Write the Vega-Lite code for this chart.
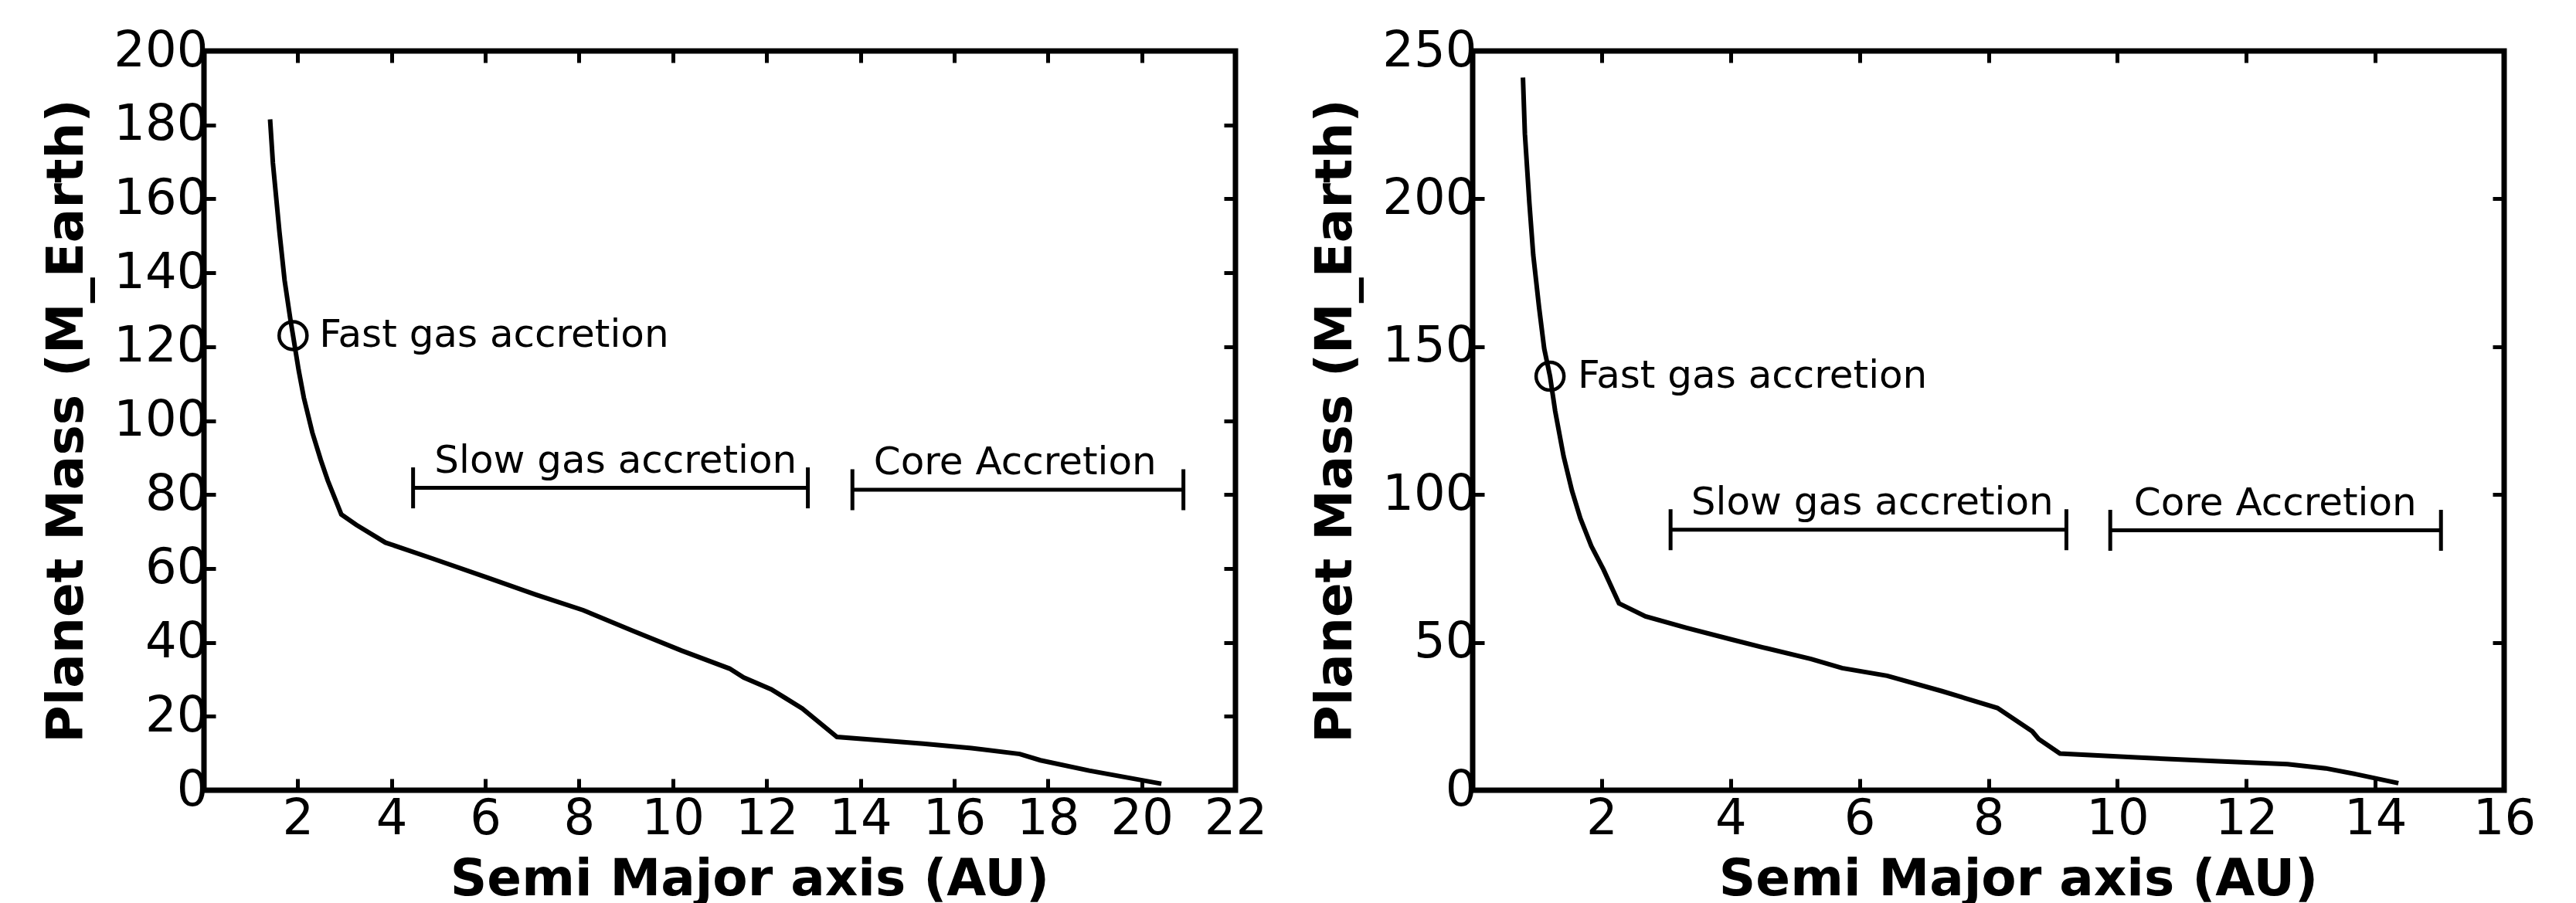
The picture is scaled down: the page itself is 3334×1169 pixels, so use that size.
{
  "$schema": "https://vega.github.io/schema/vega-lite/v6.json",
  "background": "white",
  "padding": {"left": 50, "top": 30, "right": 5, "bottom": 0},
  "spacing": 48,
  "config": {
    "view": {"stroke": "black", "strokeWidth": 7},
    "axis": {
      "labelFont": "DejaVu Sans", "labelFontSize": 64, "labelColor": "black",
      "titleFont": "DejaVu Sans", "titleFontSize": 66, "titleFontWeight": "bold", "titleColor": "black",
      "domain": false, "grid": false, "tickColor": "black", "tickWidth": 5, "tickSize": -15,
      "labelPadding": 10, "labelFlush": false, "labelOverlap": false, "titlePadding": 20
    },
    "axisX": {"labelPadding": 20, "titlePadding": 14},
    "axisY": {"titlePadding": 26},
    "text": {"font": "DejaVu Sans", "fontSize": 50, "color": "black"}
  },
  "datasets": {
    "left_curve": [
      {"a": 1.41, "m": 181.5}, {"a": 1.47, "m": 169.7}, {"a": 1.61, "m": 151}, {"a": 1.72, "m": 137.9},
      {"a": 1.84, "m": 127.6}, {"a": 1.9, "m": 123}, {"a": 2.02, "m": 113.6}, {"a": 2.13, "m": 106.2},
      {"a": 2.31, "m": 96.8}, {"a": 2.49, "m": 89.4}, {"a": 2.64, "m": 83.8}, {"a": 2.93, "m": 74.6},
      {"a": 3.25, "m": 71.8}, {"a": 3.87, "m": 67}, {"a": 4.87, "m": 62.7}, {"a": 6.05, "m": 57.5},
      {"a": 7.08, "m": 52.9}, {"a": 8.09, "m": 48.7}, {"a": 9.15, "m": 43.1}, {"a": 10.18, "m": 37.8},
      {"a": 11.21, "m": 32.9}, {"a": 11.51, "m": 30.5}, {"a": 12.1, "m": 27.3}, {"a": 12.76, "m": 22.1},
      {"a": 13.5, "m": 14.4}, {"a": 14.45, "m": 13.5}, {"a": 15.34, "m": 12.6}, {"a": 16.37, "m": 11.4},
      {"a": 17.4, "m": 9.8}, {"a": 17.84, "m": 8.1}, {"a": 18.88, "m": 5.3}, {"a": 20.42, "m": 1.75}
    ],
    "right_curve": [
      {"a": 0.78, "m": 241}, {"a": 0.81, "m": 222}, {"a": 0.88, "m": 198.5}, {"a": 0.94, "m": 181},
      {"a": 1.03, "m": 163.3}, {"a": 1.11, "m": 149.3}, {"a": 1.2, "m": 140}, {"a": 1.28, "m": 128.2},
      {"a": 1.41, "m": 113}, {"a": 1.54, "m": 101.3}, {"a": 1.67, "m": 92}, {"a": 1.84, "m": 82.6},
      {"a": 2.03, "m": 74.6}, {"a": 2.27, "m": 63.2}, {"a": 2.68, "m": 58.8}, {"a": 3.32, "m": 54.9},
      {"a": 4.01, "m": 51}, {"a": 4.5, "m": 48.3}, {"a": 5.25, "m": 44.4}, {"a": 5.73, "m": 41.3},
      {"a": 6.43, "m": 38.7}, {"a": 7.28, "m": 33.5}, {"a": 8.14, "m": 27.8}, {"a": 8.68, "m": 19.9},
      {"a": 8.78, "m": 17.3}, {"a": 9.11, "m": 12.4}, {"a": 10.29, "m": 11.1}, {"a": 11.57, "m": 9.8},
      {"a": 12.64, "m": 8.8}, {"a": 13.23, "m": 7.4}, {"a": 13.71, "m": 5.4}, {"a": 14.36, "m": 2.4}
    ],
    "left_marker": [{"a": 1.9, "m": 123, "label": "Fast gas accretion", "la": 2.46}],
    "right_marker": [{"a": 1.2, "m": 140, "label": "Fast gas accretion", "la": 1.63}],
    "left_bars": [
      {"a": 4.46, "a2": 12.88, "m": 81.8, "label": "Slow gas accretion", "lc": 8.78, "lm": 85.8},
      {"a": 13.83, "a2": 20.89, "m": 81.3, "label": "Core Accretion", "lc": 17.3, "lm": 85.5}
    ],
    "right_bars": [
      {"a": 3.07, "a2": 9.21, "m": 88.1, "label": "Slow gas accretion", "lc": 6.2, "lm": 93.3},
      {"a": 9.89, "a2": 15.02, "m": 87.9, "label": "Core Accretion", "lc": 12.45, "lm": 93.0}
    ]
  },
  "hconcat": [
    {
      "width": 1335, "height": 957,
      "resolve": {"axis": {"x": "independent", "y": "independent"}},
      "layer": [
        {
          "data": {"name": "left_curve"},
          "mark": {"type": "line", "color": "black", "strokeWidth": 6},
          "encoding": {
            "x": {"field": "a", "type": "quantitative", "scale": {"domain": [0, 22], "nice": false, "zero": false},
                  "axis": {"orient": "bottom", "values": [2, 4, 6, 8, 10, 12, 14, 16, 18, 20, 22], "title": "Semi Major axis (AU)", "titleX": 706}},
            "y": {"field": "m", "type": "quantitative", "scale": {"domain": [0, 200], "nice": false},
                  "axis": {"orient": "left", "values": [0, 20, 40, 60, 80, 100, 120, 140, 160, 180, 200], "title": "Planet Mass (M_Earth)"}}
          }
        },
        {
          "data": {"name": "left_marker"},
          "mark": {"type": "point", "shape": "circle", "filled": false, "stroke": "black", "strokeWidth": 4.5, "size": 1300, "opacity": 1},
          "encoding": {
            "x": {"field": "a", "type": "quantitative",
                  "axis": {"orient": "top", "values": [2, 4, 6, 8, 10, 12, 14, 16, 18, 20, 22], "labels": false, "title": null}},
            "y": {"field": "m", "type": "quantitative",
                  "axis": {"orient": "right", "values": [0, 20, 40, 60, 80, 100, 120, 140, 160, 180, 200], "labels": false, "title": null}}
          }
        },
        {
          "data": {"name": "left_marker"},
          "mark": {"type": "text", "align": "left", "baseline": "middle", "fontSize": 50},
          "encoding": {
            "x": {"field": "la", "type": "quantitative", "axis": null},
            "y": {"field": "m", "type": "quantitative", "axis": null},
            "text": {"field": "label"}
          }
        },
        {
          "data": {"name": "left_bars"},
          "mark": {"type": "rule", "color": "black", "strokeWidth": 5},
          "encoding": {
            "x": {"field": "a", "type": "quantitative", "axis": null},
            "x2": {"field": "a2"},
            "y": {"field": "m", "type": "quantitative", "axis": null}
          }
        },
        {
          "data": {"name": "left_bars"},
          "mark": {"type": "tick", "orient": "vertical", "color": "black", "size": 53, "thickness": 5, "opacity": 1},
          "encoding": {
            "x": {"field": "a", "type": "quantitative", "axis": null},
            "y": {"field": "m", "type": "quantitative", "axis": null}
          }
        },
        {
          "data": {"name": "left_bars"},
          "mark": {"type": "tick", "orient": "vertical", "color": "black", "size": 53, "thickness": 5, "opacity": 1},
          "encoding": {
            "x": {"field": "a2", "type": "quantitative", "axis": null},
            "y": {"field": "m", "type": "quantitative", "axis": null}
          }
        },
        {
          "data": {"name": "left_bars"},
          "mark": {"type": "text", "align": "center", "baseline": "alphabetic", "fontSize": 50},
          "encoding": {
            "x": {"field": "lc", "type": "quantitative", "axis": null},
            "y": {"field": "lm", "type": "quantitative", "axis": null},
            "text": {"field": "label"}
          }
        }
      ]
    },
    {
      "width": 1335, "height": 957,
      "resolve": {"axis": {"x": "independent", "y": "independent"}},
      "layer": [
        {
          "data": {"name": "right_curve"},
          "mark": {"type": "line", "color": "black", "strokeWidth": 6},
          "encoding": {
            "x": {"field": "a", "type": "quantitative", "scale": {"domain": [0, 16], "nice": false, "zero": false},
                  "axis": {"orient": "bottom", "values": [2, 4, 6, 8, 10, 12, 14, 16], "title": "Semi Major axis (AU)", "titleX": 706}},
            "y": {"field": "m", "type": "quantitative", "scale": {"domain": [0, 250], "nice": false},
                  "axis": {"orient": "left", "values": [0, 50, 100, 150, 200, 250], "title": "Planet Mass (M_Earth)"}}
          }
        },
        {
          "data": {"name": "right_marker"},
          "mark": {"type": "point", "shape": "circle", "filled": false, "stroke": "black", "strokeWidth": 4.5, "size": 1300, "opacity": 1},
          "encoding": {
            "x": {"field": "a", "type": "quantitative",
                  "axis": {"orient": "top", "values": [2, 4, 6, 8, 10, 12, 14, 16], "labels": false, "title": null}},
            "y": {"field": "m", "type": "quantitative",
                  "axis": {"orient": "right", "values": [0, 50, 100, 150, 200, 250], "labels": false, "title": null}}
          }
        },
        {
          "data": {"name": "right_marker"},
          "mark": {"type": "text", "align": "left", "baseline": "middle", "fontSize": 50},
          "encoding": {
            "x": {"field": "la", "type": "quantitative", "axis": null},
            "y": {"field": "m", "type": "quantitative", "axis": null},
            "text": {"field": "label"}
          }
        },
        {
          "data": {"name": "right_bars"},
          "mark": {"type": "rule", "color": "black", "strokeWidth": 5},
          "encoding": {
            "x": {"field": "a", "type": "quantitative", "axis": null},
            "x2": {"field": "a2"},
            "y": {"field": "m", "type": "quantitative", "axis": null}
          }
        },
        {
          "data": {"name": "right_bars"},
          "mark": {"type": "tick", "orient": "vertical", "color": "black", "size": 53, "thickness": 5, "opacity": 1},
          "encoding": {
            "x": {"field": "a", "type": "quantitative", "axis": null},
            "y": {"field": "m", "type": "quantitative", "axis": null}
          }
        },
        {
          "data": {"name": "right_bars"},
          "mark": {"type": "tick", "orient": "vertical", "color": "black", "size": 53, "thickness": 5, "opacity": 1},
          "encoding": {
            "x": {"field": "a2", "type": "quantitative", "axis": null},
            "y": {"field": "m", "type": "quantitative", "axis": null}
          }
        },
        {
          "data": {"name": "right_bars"},
          "mark": {"type": "text", "align": "center", "baseline": "alphabetic", "fontSize": 50},
          "encoding": {
            "x": {"field": "lc", "type": "quantitative", "axis": null},
            "y": {"field": "lm", "type": "quantitative", "axis": null},
            "text": {"field": "label"}
          }
        }
      ]
    }
  ]
}
